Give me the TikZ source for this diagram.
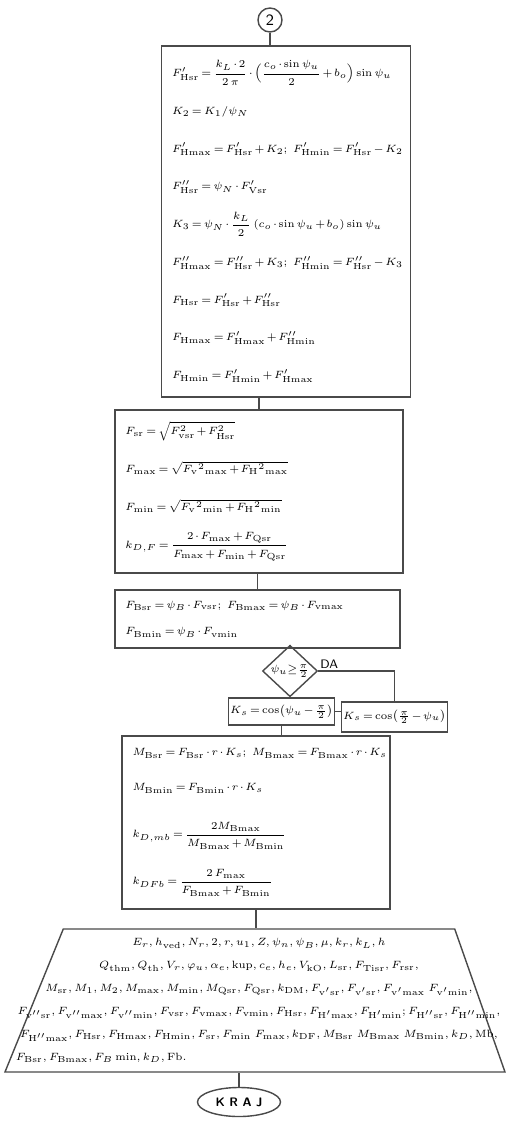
\documentclass[tikz,border=0pt]{standalone}
\usepackage{xcolor}
\usepackage{amsmath,amssymb}
\usepackage{tikz}
\usetikzlibrary{shapes.geometric}
\definecolor{ink}{HTML}{4A4A4A}

\begin{document}
\begin{tikzpicture}[
  x=0.2mm, y=-0.2mm,
  tight/.style={font=\fontsize{6}{7.5}\selectfont,
    execute at begin node={\thickmuskip=3mu\medmuskip=2mu\binoppenalty=10000\relpenalty=10000}},
  box/.style={draw=ink, thick, align=left, tight, inner xsep=6pt, inner ysep=1pt},
  lines/.style={execute at begin node={\setlength{\baselineskip}{#1}}},
  ks/.style={draw=ink, thick, tight, inner sep=1pt},
  ln/.style={draw=ink, thick}
]
\path[use as bounding box, fill=white] (0,0) rectangle (514,1126);
\node[draw=ink, thick, circle, minimum size=0.48cm, inner sep=0pt,
  font=\small\sffamily] (c2) at (270,20) {2};
\node[box, lines=21.5pt, text width=4.56cm, minimum height=7.02cm] (hsr) at (286,221.5)
  {$F'_{\mathrm{Hsr}}=\dfrac{k_L\cdot 2}{2\,\pi}\cdot\Bigl(\dfrac{c_o\cdot\sin\psi_u}{2}+b_o\Bigr)\sin\psi_u$\\
   $K_2=K_1/\psi_N$\\
   $F'_{\mathrm{Hmax}}=F'_{\mathrm{Hsr}}+K_2;\ F'_{\mathrm{Hmin}}=F'_{\mathrm{Hsr}}-K_2$\\
   $F''_{\mathrm{Hsr}}=\psi_N\cdot F'_{\mathrm{Vsr}}$\\
   $K_3=\psi_N\cdot\dfrac{k_L}{2}\,(c_o\cdot\sin\psi_u+b_o)\sin\psi_u$\\
   $F''_{\mathrm{Hmax}}=F''_{\mathrm{Hsr}}+K_3;\ F''_{\mathrm{Hmin}}=F''_{\mathrm{Hsr}}-K_3$\\
   $F_{\mathrm{Hsr}}=F'_{\mathrm{Hsr}}+F''_{\mathrm{Hsr}}$\\
   $F_{\mathrm{Hmax}}=F'_{\mathrm{Hmax}}+F''_{\mathrm{Hmin}}$\\
   $F_{\mathrm{Hmin}}=F'_{\mathrm{Hmin}}+F'_{\mathrm{Hmax}}$};
\node[box, lines=21.5pt, text width=5.34cm, minimum height=3.26cm] (fsr) at (259,491.5)
  {$F_{\mathrm{sr}}=\sqrt{F^2_{\mathrm{vsr}}+F^2_{\mathrm{Hsr}}}$\\
   $F_{\mathrm{max}}=\sqrt{F_{\mathrm{v}}{}^2{}_{\mathrm{max}}+F_{\mathrm{H}}{}^2{}_{\mathrm{max}}}$\\
   $F_{\mathrm{min}}=\sqrt{F_{\mathrm{v}}{}^2{}_{\mathrm{min}}+F_{\mathrm{H}}{}^2{}_{\mathrm{min}}}$\\
   $k_{D,F}=\dfrac{2\cdot F_{\mathrm{max}}+F_{\mathrm{Qsr}}}{F_{\mathrm{max}}+F_{\mathrm{min}}+F_{\mathrm{Qsr}}}$};
\node[box, lines=15.3pt, text width=5.28cm, minimum height=1.16cm] (fb) at (257.5,619)
  {$F_{\mathrm{Bsr}}=\psi_B\cdot F_{\mathrm{vsr}};\ F_{\mathrm{Bmax}}=\psi_B\cdot F_{\mathrm{vmax}}$\\
   $F_{\mathrm{Bmin}}=\psi_B\cdot F_{\mathrm{vmin}}$};
\node[draw=ink, thick, diamond, minimum width=1.1cm, minimum height=0.76cm,
  inner sep=0pt, tight] (test) at (290,671)
  {$\psi_u\!\geq\!\frac{\pi}{2}$};
\node[font=\scriptsize\sffamily, above right, inner sep=1pt] (da) at (test.east) {DA};
\node[ks, minimum width=1.94cm, minimum height=0.54cm] (ksl) at (281.5,711.5)
  {$K_s=\cos\bigl(\psi_u-\frac{\pi}{2}\bigr)$};
\node[ks, minimum width=2.1cm, minimum height=0.6cm] (ksr) at (394.5,717)
  {$K_s=\cos\bigl(\frac{\pi}{2}-\psi_u\bigr)$};
\node[box, lines=19.8pt, text width=4.94cm, minimum height=3.46cm] (mb) at (256,822.5)
  {$M_{\mathrm{Bsr}}=F_{\mathrm{Bsr}}\cdot r\cdot K_s;\ M_{\mathrm{Bmax}}=F_{\mathrm{Bmax}}\cdot r\cdot K_s$\\
   $M_{\mathrm{Bmin}}=F_{\mathrm{Bmin}}\cdot r\cdot K_s$\\[7pt]
   $k_{D,mb}=\dfrac{2M_{\mathrm{Bmax}}}{M_{\mathrm{Bmax}}+M_{\mathrm{Bmin}}}$\\[7pt]
   $k_{DFb}=\dfrac{2\,F_{\mathrm{max}}}{F_{\mathrm{Bmax}}+F_{\mathrm{Bmin}}}$};
\node[draw=ink, thick, trapezium, trapezium left angle=66, trapezium right angle=69,
  trapezium stretches body, minimum width=10cm, minimum height=2.86cm,
  text width=7cm, inner xsep=0.3cm, inner ysep=2pt, align=center, tight,
  lines=13pt] (trap) at (259,1000.5)
  {\makebox[\linewidth]{$E_r, h_{\mathrm{ved}}, N_r, 2, r, u_1, Z, \psi_n, \psi_B, \mu, k_r, k_L, h$}\\
   \makebox[\linewidth]{$Q_{\mathrm{thm}}, Q_{\mathrm{th}}, V_r, \varphi_u, \alpha_e, \mathrm{kup}, c_e, h_e, V_{\mathrm{kO}}, L_{\mathrm{sr}}, F_{\mathrm{Tisr}}, F_{\mathrm{rsr}},$}\\
   \makebox[\linewidth]{$M_{\mathrm{sr}}, M_1, M_2, M_{\mathrm{max}}, M_{\mathrm{min}}, M_{\mathrm{Qsr}}, F_{\mathrm{Qsr}}, k_{\mathrm{DM}}, F_{\mathrm{v'sr}}, F_{\mathrm{v'sr}}, F_{\mathrm{v'max}}\ F_{\mathrm{v'min}},$}\\
   \makebox[\linewidth]{$F_{\mathrm{v''sr}}, F_{\mathrm{v''max}}, F_{\mathrm{v''min}}, F_{\mathrm{vsr}}, F_{\mathrm{vmax}}, F_{\mathrm{vmin}}, F_{\mathrm{Hsr}}, F_{\mathrm{H'max}}, F_{\mathrm{H'min}}; F_{\mathrm{H''sr}}, F_{\mathrm{H''min}},$}\\
   \makebox[\linewidth]{$F_{\mathrm{H''max}}, F_{\mathrm{Hsr}}, F_{\mathrm{Hmax}}, F_{\mathrm{Hmin}}, F_{\mathrm{sr}}, F_{\mathrm{min}}\ F_{\mathrm{max}}, k_{\mathrm{DF}}, M_{\mathrm{Bsr}}\ M_{\mathrm{Bmax}}\ M_{\mathrm{Bmin}}, k_D, \mathrm{Mb},$}\\
   \makebox[\linewidth][l]{\hspace*{-1.36cm}$F_{\mathrm{Bsr}}, F_{\mathrm{Bmax}}, F_B\,\mathrm{min}, k_D, \mathrm{Fb}.$}};
\node[draw=ink, thick, ellipse, minimum width=1.64cm, minimum height=0.58cm,
  font=\scriptsize\sffamily\bfseries] (kraj) at (239,1102) {K R A J};
\draw[ln] (c2.south) -- (c2.south |- hsr.north);
\draw[ln] (fsr.north) -- (fsr.north |- hsr.south);
\draw[ln] (fb.north) -- (fb.north |- fsr.south);
\draw[ln] (test.north) -- (test.north |- fb.south);
\draw[ln] (test.south) -- (test.south |- ksl.north);
\draw[ln] (test.east) -| (ksr.north);
\draw[ln] (ksl.east) -- (ksl.east -| ksr.west);
\draw[ln] (ksl.south) -- (ksl.south |- mb.north);
\draw[ln] (mb.south) -- (mb.south |- trap.north);
\draw[ln] (kraj.north) -- (kraj.north |- trap.south);
\end{tikzpicture}
\end{document}
